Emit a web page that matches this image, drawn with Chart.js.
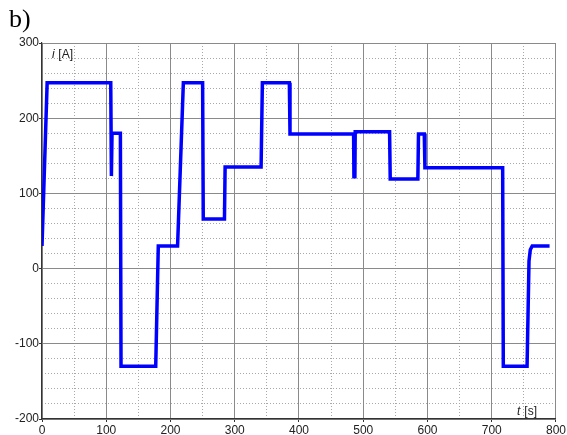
<!DOCTYPE html>
<html>
<head>
<meta charset="utf-8">
<script src="https://cdn.jsdelivr.net/npm/chart.js@4/dist/chart.umd.min.js"></script>
<style>
  body { margin: 0; background: #fff; }
  canvas { display: block; }
</style>
</head>
<body>
<canvas id="myChart" width="567" height="435"></canvas>
<script>
// время, с
const tValues = [0, 8, 107, 108, 109, 122, 123, 177, 181, 211, 220, 250, 251, 284, 285, 341, 343, 385, 386,
  485, 485.5, 487, 487.5, 541, 542, 585, 586, 595, 596, 717, 718, 755, 758, 760, 763, 790];
// ток, А
const iValues = [30, 247, 247, 123, 180, 180, -130, -130, 30, 30, 247, 247, 66, 66, 135, 135, 247, 247, 179,
  179, 122, 122, 182, 182, 119, 119, 179, 179, 134, 134, -130, -130, 10, 25, 30, 30];

const xTicks = [0, 100, 200, 300, 400, 500, 600, 700, 800];
const yTicks = [-200, -100, 0, 100, 200, 300];

const points = tValues.map((t, k) => ({ x: t, y: iValues[k] }));

const font = { family: '"Liberation Sans", Arial, sans-serif', size: 12 };

// подписи "b)", "i [A]", "t [s]"
const labelsPlugin = {
  id: 'labels',
  afterDraw(chart) {
    const ctx = chart.ctx;
    const area = chart.chartArea;
    ctx.save();
    ctx.fillStyle = '#000';
    ctx.textBaseline = 'alphabetic';
    ctx.font = '26px "Liberation Serif", "Times New Roman", serif';
    ctx.fillText('b)', 9, 27);

    ctx.fillStyle = '#222';
    ctx.font = 'italic 12px "Liberation Sans", Arial, sans-serif';
    ctx.fillText('i', area.left + 10, area.top + 15);
    ctx.font = '12px "Liberation Sans", Arial, sans-serif';
    ctx.fillText(' [A]', area.left + 13, area.top + 15);

    ctx.font = 'italic 12px "Liberation Sans", Arial, sans-serif';
    ctx.fillText('t', area.right - 39, area.bottom - 4);
    ctx.font = '12px "Liberation Sans", Arial, sans-serif';
    ctx.fillText(' [s]', area.right - 35, area.bottom - 4);
    ctx.restore();
  }
};

function minorColor(ctx) {
  return ctx.tick && ctx.tick.value % 100 === 0 ? 'rgba(0,0,0,0)' : '#a8a8a8';
}

new Chart(document.getElementById('myChart').getContext('2d'), {
  type: 'line',
  data: {
    datasets: [{
      data: points,
      xAxisID: 'x',
      yAxisID: 'y',
      borderColor: '#0000ff',
      borderWidth: 3.5,
      pointRadius: 0,
      tension: 0,
      fill: false
    }]
  },
  options: {
    responsive: false,
    animation: false,
    layout: { padding: { top: 43, right: 9, left: 0, bottom: 0 } },
    plugins: { legend: { display: false }, tooltip: { enabled: false } },
    scales: {
      xMinor: {
        type: 'linear', position: 'bottom', min: 0, max: 800,
        ticks: { display: false, stepSize: 50, autoSkip: false },
        grid: { color: minorColor, lineWidth: 1, drawTicks: false },
        border: { display: false, dash: [1, 2] },
        afterFit(scale) { scale.height = 0; }
      },
      yMinor: {
        type: 'linear', position: 'left', min: -200, max: 300,
        ticks: { display: false, stepSize: 20, autoSkip: false },
        grid: { color: minorColor, lineWidth: 1, drawTicks: false },
        border: { display: false, dash: [1, 2] },
        afterFit(scale) { scale.width = 0; }
      },
      x: {
        type: 'linear', position: 'bottom', min: 0, max: 800,
        afterBuildTicks(scale) { scale.ticks = xTicks.map(v => ({ value: v })); },
        ticks: { color: '#222', font: font, padding: 1, autoSkip: false, maxRotation: 0 },
        grid: { color: '#8a8a8a', lineWidth: 1, tickLength: 3, tickColor: '#333' },
        border: { display: true, color: '#333', width: 1.2 },
        afterFit(scale) { scale.height = 16; }
      },
      y: {
        type: 'linear', position: 'left', min: -200, max: 300,
        afterBuildTicks(scale) { scale.ticks = yTicks.map(v => ({ value: v })); },
        ticks: { color: '#222', font: font, padding: 0, autoSkip: false },
        grid: { color: '#8a8a8a', lineWidth: 1, tickLength: 3, tickColor: '#333' },
        border: { display: true, color: '#333', width: 1.2 },
        afterFit(scale) { scale.width = 42; }
      }
    }
  },
  plugins: [labelsPlugin]
});
</script>
</body>
</html>
